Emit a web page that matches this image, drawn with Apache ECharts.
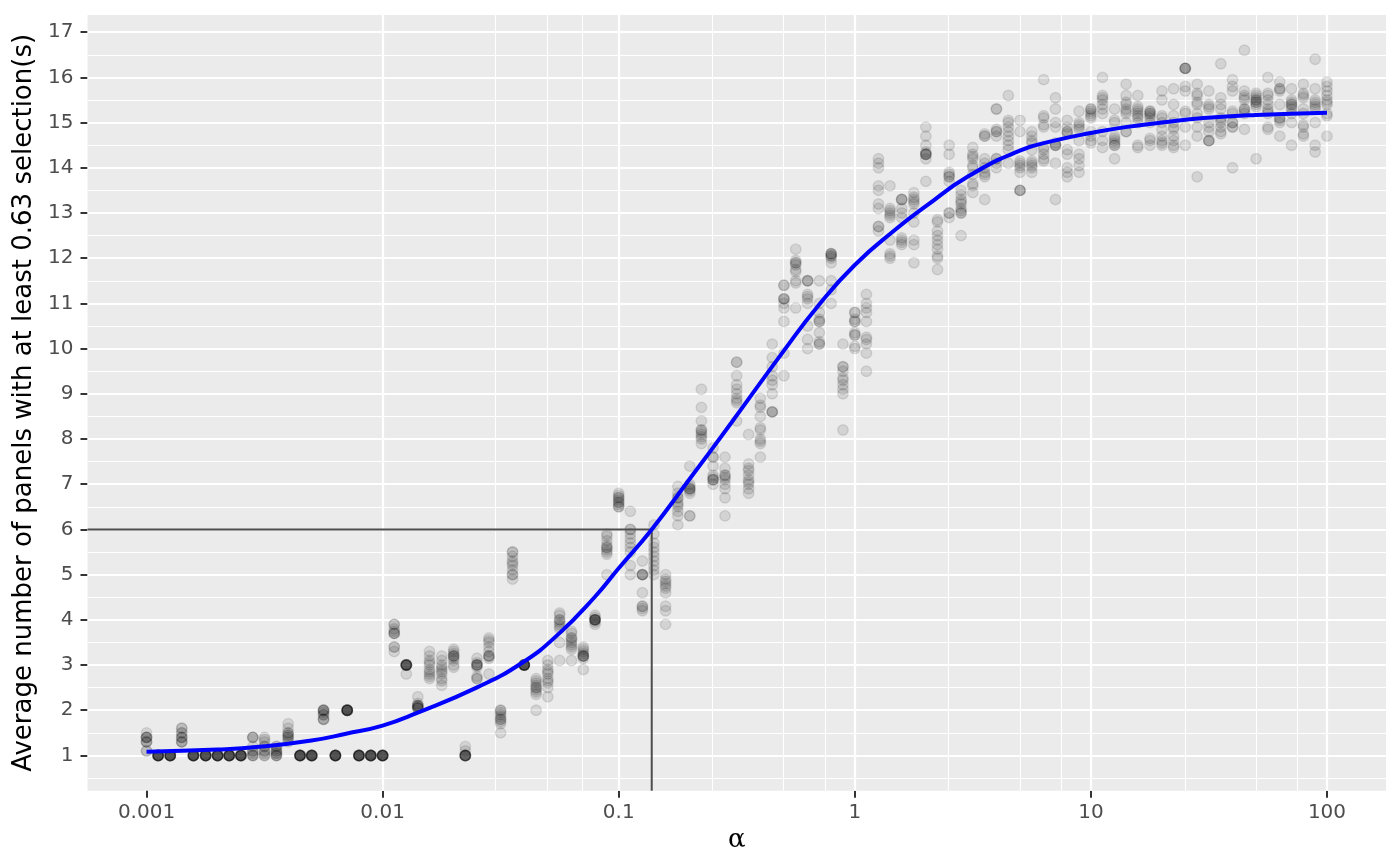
<!DOCTYPE html>
<html>
<head>
<meta charset="utf-8">
<script src="https://cdn.jsdelivr.net/npm/echarts@6/dist/echarts.min.js"></script>
<style>
html,body{margin:0;padding:0;background:#fff;}
#chart{width:1400px;height:866px;}
</style>
</head>
<body>
<div id="chart"></div>
<script>
// alpha values (x), one column of 10 replicate averages per alpha
const alphaValues = [
0.001,0.00112,0.00126,0.00141,0.00158,0.00178,0.002,0.00224,0.00251,0.00282,0.00316,0.00355,0.00398,0.00447,0.00501,0.00562,0.00631,0.00708,0.00794,0.00891,
0.01,0.0112,0.0126,0.0141,0.0158,0.0178,0.02,0.0224,0.0251,0.0282,0.0316,0.0355,0.0398,0.0447,0.0501,0.0562,0.0631,0.0708,0.0794,0.0891,
0.1,0.112,0.126,0.141,0.158,0.178,0.2,0.224,0.251,0.282,0.316,0.355,0.398,0.447,0.501,0.562,0.631,0.708,0.794,0.891,
1,1.12,1.26,1.41,1.58,1.78,2,2.24,2.51,2.82,3.16,3.55,3.98,4.47,5.01,5.62,6.31,7.08,7.94,8.91,
10,11.2,12.6,14.1,15.8,17.8,20,22.4,25.1,28.2,31.6,35.5,39.8,44.7,50.1,56.2,63.1,70.8,79.4,89.1,
100
];
const panelCounts = [
[1.1,1.1,1.3,1.3,1.3,1.4,1.4,1.4,1.4,1.5],
[1,1,1,1,1,1,1,1,1,1],
[1,1,1,1,1,1,1,1,1,1],
[1.3,1.3,1.3,1.4,1.4,1.4,1.5,1.5,1.6,1.6],
[1,1,1,1,1,1,1,1,1,1],
[1,1,1,1,1,1,1,1,1,1],
[1,1,1,1,1,1,1,1,1,1],
[1,1,1,1,1,1,1,1,1,1],
[1,1,1,1,1,1,1,1,1,1],
[1,1,1,1.05,1.1,1.1,1.2,1.4,1.4,1.4],
[1,1,1.05,1.1,1.1,1.2,1.2,1.3,1.35,1.4],
[1,1,1,1.05,1.05,1.1,1.1,1.15,1.2,1.2],
[1.3,1.35,1.4,1.4,1.45,1.45,1.5,1.5,1.6,1.7],
[1,1,1,1,1,1,1,1,1,1],
[1,1,1,1,1,1,1,1,1,1],
[1.8,1.8,1.8,1.9,1.9,1.95,2,2,2,2],
[1,1,1,1,1,1,1,1,1,1],
[2,2,2,2,2,2,2,2,2,2],
[1,1,1,1,1,1,1,1,1,1],
[1,1,1,1,1,1,1,1,1,1],
[1,1,1,1,1,1,1,1,1,1],
[3.3,3.4,3.4,3.7,3.7,3.7,3.75,3.8,3.9,3.9],
[2.8,3,3,3,3,3,3,3,3,3],
[2.05,2.05,2.05,2.05,2.1,2.1,2.1,2.1,2.15,2.3],
[2.7,2.75,2.8,2.85,2.9,3,3.05,3.1,3.2,3.3],
[2.55,2.65,2.7,2.8,2.85,2.9,2.95,3,3.1,3.2],
[2.95,3,3.1,3.15,3.2,3.2,3.2,3.25,3.3,3.35],
[1,1,1,1,1,1,1,1,1.1,1.2],
[2.7,2.7,2.75,2.95,3,3,3,3,3.05,3.15],
[2.8,3.15,3.2,3.2,3.2,3.3,3.4,3.5,3.55,3.6],
[1.5,1.7,1.75,1.8,1.8,1.85,1.9,1.95,2,2],
[4.9,5,5,5.1,5.2,5.25,5.3,5.4,5.5,5.5],
[3,3,3,3,3,3,3,3,3,3],
[2,2.35,2.4,2.45,2.5,2.5,2.55,2.6,2.65,2.7],
[2.3,2.5,2.6,2.65,2.7,2.8,2.85,2.9,3,3.1],
[3.1,3.5,3.8,3.85,3.9,3.95,4,4,4.1,4.15],
[3.1,3.35,3.4,3.45,3.5,3.55,3.6,3.6,3.7,3.75],
[2.9,3.15,3.2,3.2,3.2,3.2,3.25,3.3,3.35,3.4],
[3.9,3.95,4,4,4,4,4,4,4.05,4.1],
[5,5.45,5.5,5.55,5.6,5.6,5.65,5.75,5.85,5.9],
[6.5,6.5,6.55,6.6,6.6,6.65,6.7,6.7,6.75,6.8],
[5,5.2,5.5,5.6,5.7,5.8,5.9,6,6,6.4],
[4.2,4.25,4.3,4.3,4.6,5,5,5,5,5.3],
[5,5.1,5.2,5.3,5.4,5.5,5.6,5.7,5.9,6.1],
[3.9,4.2,4.3,4.6,4.7,4.75,4.8,4.85,4.9,5],
[6.1,6.3,6.4,6.5,6.55,6.6,6.7,6.7,6.8,6.95],
[6.3,6.3,6.8,6.85,6.9,6.9,6.9,6.95,7,7.4],
[7.9,8,8.05,8.1,8.15,8.2,8.2,8.4,8.7,9.1],
[7,7.1,7.1,7.1,7.15,7.2,7.4,7.6,7.6,7.8],
[6.3,6.7,6.9,7,7.1,7.15,7.2,7.2,7.35,7.6],
[8.4,8.8,8.85,8.9,9,9.1,9.2,9.4,9.7,9.7],
[6.8,6.9,7,7.05,7.1,7.2,7.3,7.35,7.45,8.1],
[7.6,7.9,7.95,8,8.2,8.25,8.5,8.7,8.75,8.9],
[8.6,8.6,8.6,9,9.2,9.3,9.4,9.6,9.8,10.1],
[9.4,9.9,10.6,10.9,11,11.1,11.1,11.1,11.4,11.4],
[10.9,11.45,11.5,11.7,11.75,11.85,11.9,11.9,11.95,12.2],
[10,10.2,10.5,11,11.1,11.15,11.2,11.5,11.5,11.5],
[10.1,10.1,10.15,10.35,10.6,10.6,10.65,10.8,11,11.5],
[11,11.3,11.5,11.9,12,12.05,12.05,12.1,12.1,12.1],
[8.2,9,9.1,9.2,9.3,9.35,9.5,9.6,9.6,10.1],
[10,10.05,10.3,10.3,10.35,10.6,10.6,10.65,10.8,10.8],
[9.5,9.9,10.1,10.2,10.25,10.6,10.8,10.9,11,11.2],
[12.6,12.7,12.7,13.1,13.2,13.5,13.6,14,14.1,14.2],
[12,12.05,12.1,12.4,12.9,12.95,13,13.05,13.1,13.6],
[12.3,12.35,12.4,12.45,12.9,13,13.1,13.3,13.3,13.3],
[11.9,12.3,12.4,12.8,13,13.2,13.25,13.3,13.35,13.45],
[13.7,14.2,14.3,14.3,14.3,14.3,14.35,14.5,14.7,14.9],
[11.75,12,12.05,12.2,12.3,12.4,12.5,12.6,12.8,12.85],
[12.9,13,13,13.7,13.8,13.8,13.85,13.9,14.3,14.5],
[12.5,13,13,13.05,13.1,13.2,13.25,13.3,13.4,13.5],
[13.45,13.6,13.65,13.85,14,14.05,14.2,14.25,14.3,14.45],
[13.3,13.8,13.85,13.9,14,14.1,14.2,14.7,14.7,14.75],
[14,14.1,14.2,14.2,14.7,14.8,14.8,14.85,15.3,15.3],
[14.1,14.4,14.5,14.6,14.7,14.8,14.9,15,15.05,15.6],
[13.5,13.5,13.5,13.9,14,14.05,14.1,14.15,14.8,15.05],
[13.9,14,14.05,14.1,14.15,14.4,14.55,14.6,14.7,14.8],
[14.15,14.2,14.3,14.4,14.45,14.9,14.95,15.1,15.15,15.95],
[13.3,14.1,14.5,14.5,14.5,14.55,14.9,15,15.3,15.55],
[13.8,13.9,14,14.3,14.4,14.75,14.8,14.8,14.9,15.05],
[13.9,14.05,14.2,14.3,14.6,14.85,14.9,14.95,15,15.25],
[14.55,14.6,14.7,14.8,15.1,15.15,15.2,15.25,15.3,15.3],
[14.45,14.6,14.8,15.2,15.3,15.4,15.5,15.55,15.6,16],
[14.2,14.5,14.5,14.55,14.6,14.65,14.7,15,15.05,15.3],
[14.8,14.8,15,15.2,15.25,15.3,15.4,15.45,15.6,15.85],
[14.45,14.5,15,15.1,15.15,15.2,15.25,15.3,15.35,15.6],
[14.5,14.6,14.65,15,15.1,15.15,15.2,15.2,15.25,15.25],
[14.5,14.55,14.6,14.7,14.85,15,15.1,15.15,15.5,15.7],
[14.45,14.5,14.6,14.7,14.85,14.9,15,15.15,15.4,15.75],
[14.5,14.9,15.2,15.25,15.7,15.8,16.2,16.2,16.2,16.2],
[13.8,14.7,14.9,15.1,15.2,15.4,15.45,15.6,15.65,15.85],
[14.6,14.6,14.6,14.8,14.9,15,15.3,15.35,15.4,15.7],
[14.75,14.8,14.9,15,15.05,15.1,15.3,15.4,15.55,16.3],
[14,14.9,14.9,15,15,15.2,15.25,15.7,15.8,15.95],
[14.85,15.2,15.25,15.3,15.3,15.5,15.55,15.6,15.7,16.6],
[14.2,15.35,15.4,15.45,15.45,15.5,15.5,15.55,15.6,15.65],
[14.85,14.9,15.2,15.25,15.3,15.4,15.5,15.6,15.65,16],
[14.7,15,15.05,15.1,15.1,15.4,15.7,15.75,15.75,15.9],
[14.5,15,15.2,15.3,15.35,15.4,15.4,15.45,15.5,15.75],
[14.7,14.75,14.9,14.95,15.2,15.3,15.55,15.6,15.65,15.85],
[14.35,14.5,15,15.3,15.35,15.4,15.45,15.5,15.75,16.4],
[14.7,15.15,15.2,15.4,15.45,15.5,15.6,15.7,15.8,15.9]
];
// fitted curve
const curveAlpha = [0.001,0.002,0.003,0.005,0.007,0.01,0.014,0.025,0.039,0.056,0.079,0.1,0.138,0.2,0.3,0.5,0.7,1,1.5,2,3,5,7,10,14,20,30,50,100];
const curveValue = [1.08,1.13,1.19,1.33,1.48,1.66,1.94,2.5,3.05,3.7,4.5,5.14,6.0,7.12,8.36,9.95,10.95,11.85,12.65,13.15,13.8,14.38,14.6,14.77,14.9,15.0,15.1,15.17,15.22];
// reference crossing
const refAlpha = 0.138;
const refCount = 6;
// ticks
const xTickValues = [0.001,0.01,0.1,1,10,100];
const xTickLabels = ['0.001','0.01','0.1','1','10','100'];
const xMinorGrid = [0.00075,0.0025,0.005,0.0075,0.025,0.05,0.075,0.25,0.5,0.75,2.5,5,7.5,25,50,75];
const yTickValues = [1,2,3,4,5,6,7,8,9,10,11,12,13,14,15,16,17];
const yMinorGrid = [0.5,1.5,2.5,3.5,4.5,5.5,6.5,7.5,8.5,9.5,10.5,11.5,12.5,13.5,14.5,15.5,16.5];

const X_MIN = 0.00056234, X_MAX = 177.83;
const Y_MIN = 0.22, Y_MAX = 17.38;

const points = [];
alphaValues.forEach((a, i) => {
  panelCounts[i].forEach(v => points.push([a, v]));
});
const curve = curveAlpha.map((a, i) => [a, curveValue[i]]);

const gridLines = [];
xTickValues.forEach(v => gridLines.push({xAxis: v, lineStyle: {width: 2.2}}));
xMinorGrid.forEach(v => gridLines.push({xAxis: v, lineStyle: {width: 1.1}}));
yTickValues.forEach(v => gridLines.push({yAxis: v, lineStyle: {width: 2.2}}));
yMinorGrid.forEach(v => gridLines.push({yAxis: v, lineStyle: {width: 1.1}}));

const FONT = 'DejaVu Sans, Liberation Sans, sans-serif';
const chart = echarts.init(document.getElementById('chart'), null, {renderer: 'canvas'});
chart.setOption({
  animation: false,
  backgroundColor: '#FFFFFF',
  grid: {left: 87.5, right: 14, top: 15, bottom: 75.3, show: true, backgroundColor: '#EBEBEB', borderWidth: 0, z: 0},
  xAxis: {
    type: 'log', logBase: 10, min: X_MIN, max: X_MAX,
    name: 'α', nameLocation: 'middle', nameGap: 30,
    nameTextStyle: {fontFamily: 'DejaVu Serif, Liberation Serif, serif', fontSize: 26, color: '#000'},
    axisLine: {show: false},
    axisTick: {show: true, customValues: xTickValues, length: 7, lineStyle: {color: '#333333', width: 2}},
    axisLabel: {show: true, customValues: xTickValues, margin: 12, fontFamily: FONT, fontSize: 20, color: '#4D4D4D',
      formatter: function (v) {
        for (let i = 0; i < xTickValues.length; i++) {
          if (Math.abs(v - xTickValues[i]) / xTickValues[i] < 1e-6) return xTickLabels[i];
        }
        return '';
      }},
    splitLine: {show: false}, minorSplitLine: {show: false}
  },
  yAxis: {
    type: 'value', min: Y_MIN, max: Y_MAX,
    name: 'Average number of panels with at least 0.63 selection(s)', nameLocation: 'middle', nameGap: 45,
    nameTextStyle: {fontFamily: FONT, fontSize: 26, color: '#000'},
    axisLine: {show: false},
    axisTick: {show: true, customValues: yTickValues, length: 7, lineStyle: {color: '#333333', width: 2}},
    axisLabel: {show: true, customValues: yTickValues, margin: 14, fontFamily: FONT, fontSize: 20, color: '#4D4D4D'},
    splitLine: {show: false}
  },
  series: [
    {
      type: 'line', data: [], z: 1, silent: true,
      markLine: {z: 1, silent: true, symbol: ['none', 'none'], label: {show: false}, animation: false,
        lineStyle: {color: '#FFFFFF', type: 'solid', opacity: 1}, emphasis: {disabled: true},
        data: gridLines}
    },
    {
      type: 'scatter', z: 2, data: points, symbol: 'circle', symbolSize: 10.5, silent: true,
      itemStyle: {color: 'rgba(0,0,0,0.1)', borderColor: 'rgba(0,0,0,0.1)', borderWidth: 1.4, opacity: 1}
    },
    {
      type: 'line', z: 3, silent: true, symbol: 'none',
      data: [[X_MIN, refCount], [refAlpha, refCount], [refAlpha, Y_MIN]],
      lineStyle: {color: '#4D4D4D', width: 2}
    },
    {
      type: 'line', z: 4, silent: true, symbol: 'none', smooth: 0.5,
      data: curve,
      lineStyle: {color: '#0000FF', width: 4}
    }
  ]
});
</script>
</body>
</html>
